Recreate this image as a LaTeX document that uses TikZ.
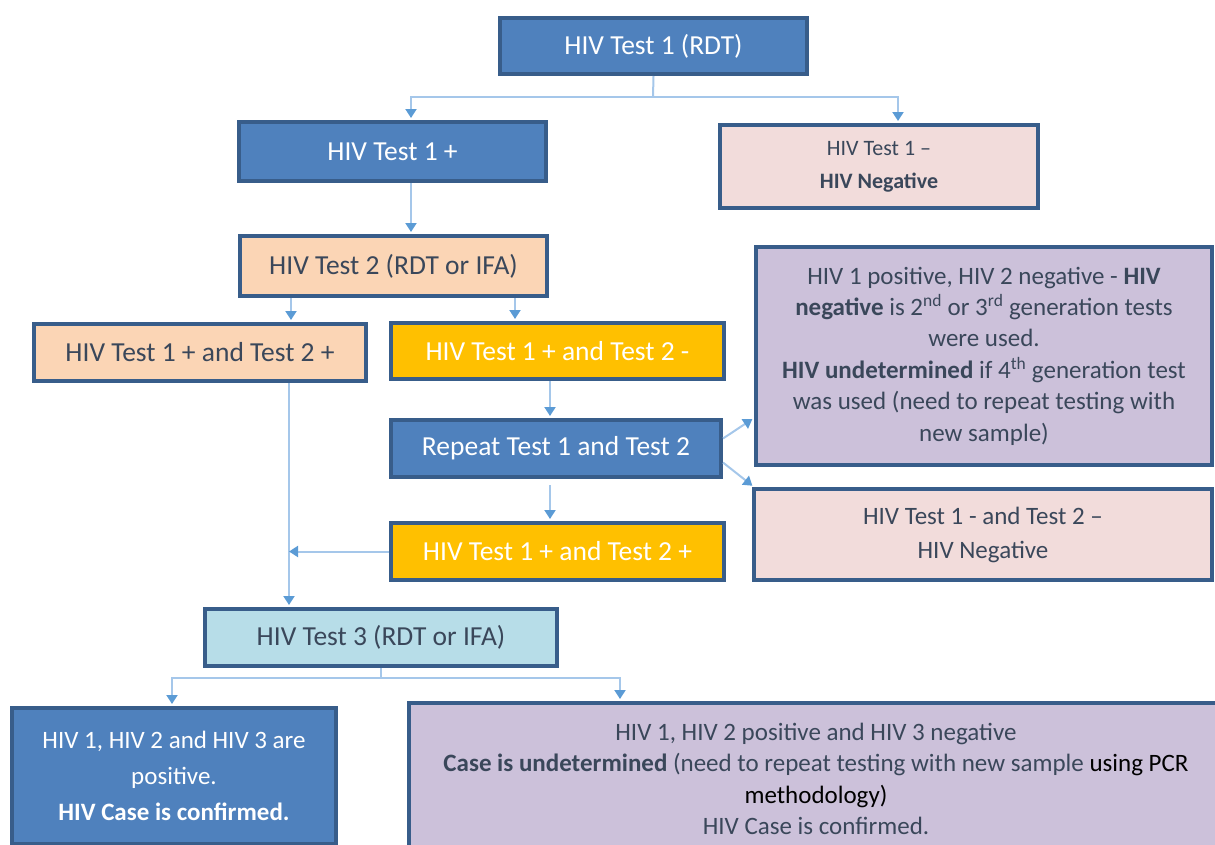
\documentclass[tikz,border=0pt]{standalone}
\usepackage{fontspec}
\setmainfont{Carlito}
\usetikzlibrary{arrows.meta}

\definecolor{boxblue}{HTML}{4F81BD}
\definecolor{edgeblue}{HTML}{385D8A}
\definecolor{peach}{HTML}{FBD5B5}
\definecolor{gold}{HTML}{FFC000}
\definecolor{pinkish}{HTML}{F2DCDB}
\definecolor{lavender}{HTML}{CCC1DA}
\definecolor{paleblue}{HTML}{B7DDE8}
\definecolor{slate}{HTML}{3A475A}
\definecolor{linkblue}{HTML}{A5C7EA}
\definecolor{tipblue}{HTML}{5B9BD5}

\tikzset{
  box/.style={draw=edgeblue, line width=4pt, inner sep=0pt, align=center,
              text=slate, font=\fontsize{27.5}{33}\selectfont},
  bluebox/.style={box, fill=boxblue, text=white},
  peachbox/.style={box, fill=peach},
  goldbox/.style={box, fill=gold, text=white},
  pinkbox/.style={box, fill=pinkish},
  lavbox/.style={box, fill=lavender},
  palebox/.style={box, fill=paleblue},
  conn/.style={draw=linkblue, line width=2pt},
  arr/.style={conn, -{Triangle[width=11pt,length=9pt,color=tipblue]}, shorten >=2pt},
}

\begin{document}
\begin{tikzpicture}[x=1pt,y=-1pt]
\useasboundingbox (0,0) rectangle (1215,844);

% flow boxes
\node[bluebox, minimum width=307, minimum height=56] (A) at (653.5,46) {HIV Test 1 (RDT)};
\node[bluebox, minimum width=307, minimum height=59] (B) at (392.5,151.5) {HIV Test 1 +};
\node[pinkbox, minimum width=318, minimum height=83, font=\fontsize{22}{33}\selectfont] (C) at (879,166.5)
  {HIV Test 1 –\\ \textbf{HIV Negative}};
\node[peachbox, minimum width=307, minimum height=60] (D) at (393.5,266) {HIV Test 2 (RDT or IFA)};
\node[peachbox, minimum width=332, minimum height=57] (E) at (200,352.5) {HIV Test 1 + and Test 2 +};
\node[goldbox, minimum width=333, minimum height=56] (F) at (557.5,351) {HIV Test 1 + and Test 2 -};
\node[bluebox, minimum width=330, minimum height=57] (G) at (556,448.5) {Repeat Test 1 and Test 2};
\node[goldbox, minimum width=333, minimum height=57] (H) at (557.5,551.5) {HIV Test 1 + and Test 2 +};
\node[lavbox, minimum width=456, minimum height=218, font=\fontsize{25}{31.4}\selectfont] (L) at (984,356)
  {HIV 1 positive, HIV 2 negative - \textbf{HIV}\\
   \textbf{negative} is 2\textsuperscript{nd} or 3\textsuperscript{rd} generation tests\\
   were used.\\
   \textbf{HIV undetermined} if 4\textsuperscript{th} generation test\\
   was used (need to repeat testing with\\
   new sample)};
\node[pinkbox, minimum width=458, minimum height=91, font=\fontsize{25}{34}\selectfont] (M) at (983,534.5)
  {HIV Test 1 - and Test 2 –\\ HIV Negative};
\node[palebox, minimum width=352, minimum height=57] (I) at (381,637.5) {HIV Test 3 (RDT or IFA)};
\node[bluebox, minimum width=324, minimum height=136, font=\fontsize{25}{36}\selectfont] (J) at (174,776)
  {HIV 1, HIV 2 and HIV 3 are\\ positive.\\ \textbf{HIV Case is confirmed.}};
\node[lavbox, minimum width=814, minimum height=152, font=\fontsize{25}{31.3}\selectfont] (K) at (816,779)
  {HIV 1, HIV 2 positive and HIV 3 negative\\
   \textbf{Case is undetermined} (need to repeat testing with new sample {\color{black}using PCR}\\
   {\color{black}methodology)}\\
   HIV Case is confirmed.};

% helper columns for the vertical connectors
\coordinate (cB) at (411,0);
\coordinate (cC) at (898,0);
\coordinate (cE) at (291,0);
\coordinate (cF) at (515,0);
\coordinate (cG) at (550,0);
\coordinate (cI) at (289,0);
\coordinate (cJ) at (172,0);
\coordinate (cK) at (620,0);
\coordinate (ta) at (653,97);
\coordinate (ti) at (381,678);

% connectors
\draw[conn] (A.south) -- (ta);
\draw[arr] (ta) -| (B.north -| cB);
\draw[arr] (ta) -| (C.north -| cC);
\draw[arr] (B.south -| cB) -- (D.north -| cB);
\draw[arr] (D.south -| cE) -- (E.north -| cE);
\draw[arr] (D.south -| cF) -- (F.north -| cF);
\draw[arr] (F.south -| cG) -- (G.north -| cG);
\draw[arr] ([yshift=-6pt]G.south -| cG) -- (H.north -| cG);
\draw[arr] (E.south -| cI) -- (I.north -| cI);
\draw[arr, shorten >=0pt] (H.west) -- (H.west -| cI);
\draw[arr] ([yshift=10pt]G.east) -- ([yshift=-62pt]L.west);
\draw[arr] ([yshift=-14pt]G.east) -- ([xshift=2pt]M.north west);
\draw[conn] (I.south) -- (ti);
\draw[arr] (ti) -| (J.north -| cJ);
\draw[arr] (ti) -| (K.north -| cK);
\end{tikzpicture}
\end{document}
